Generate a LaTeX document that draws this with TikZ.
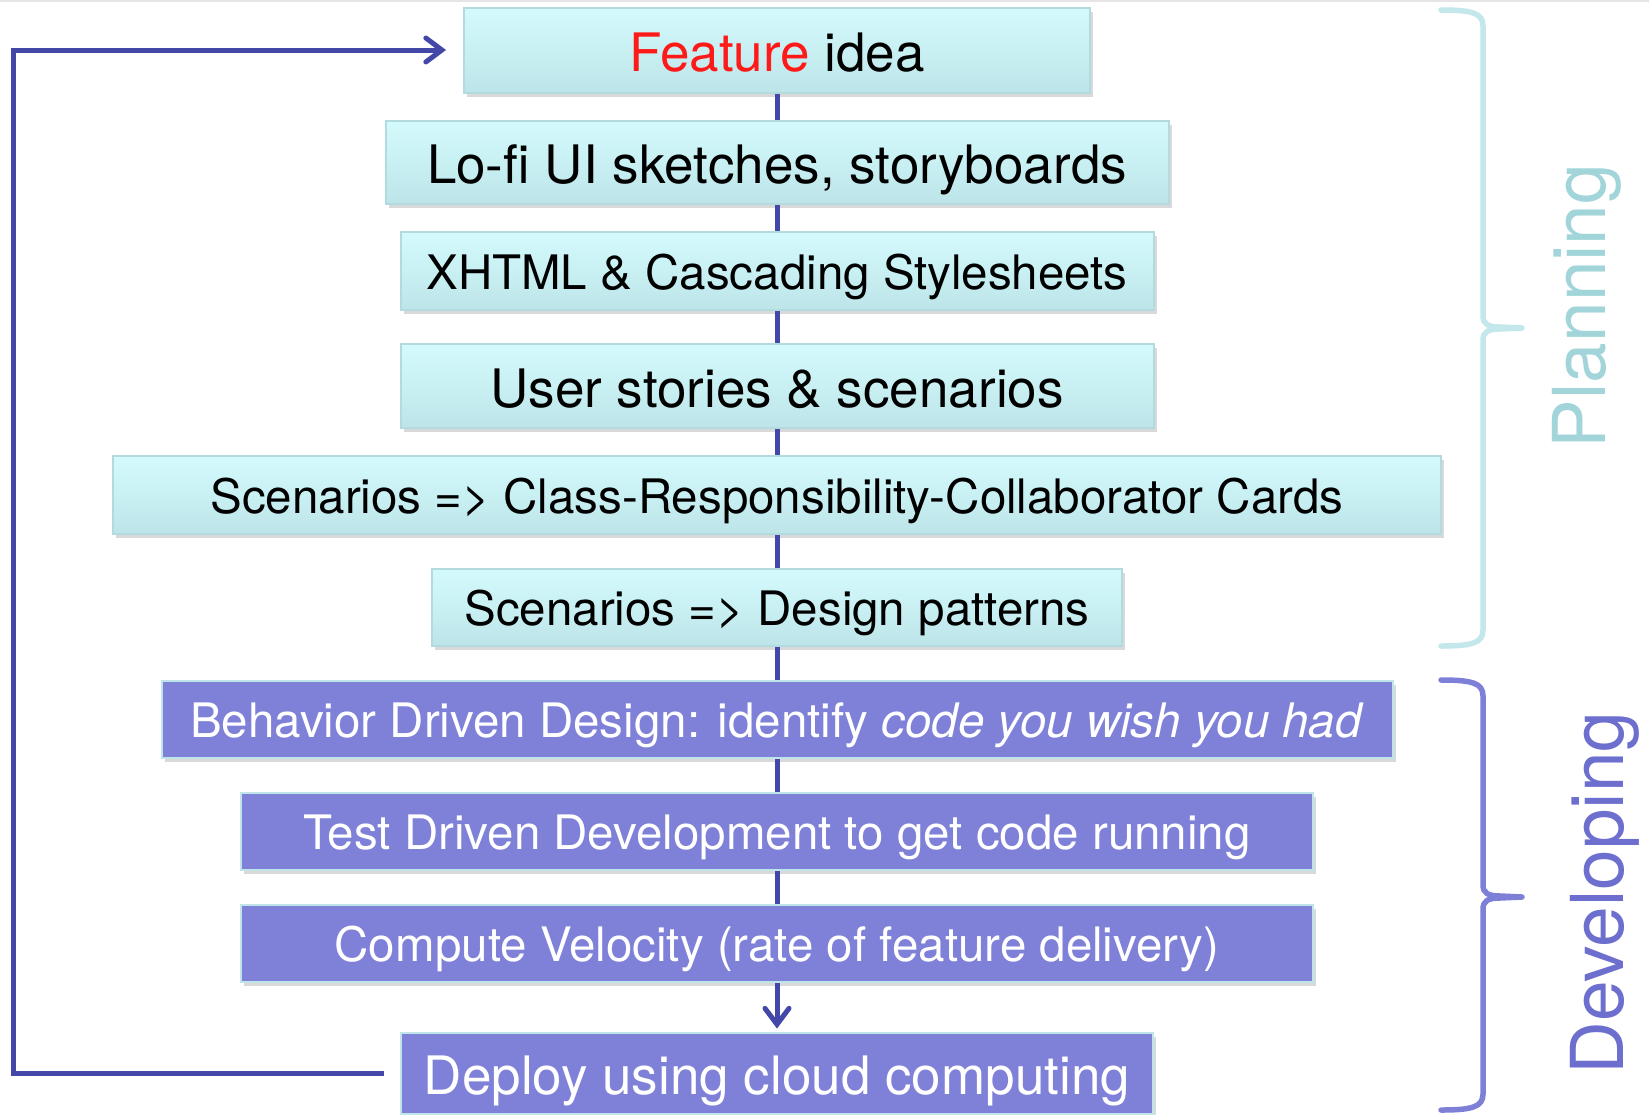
\documentclass[tikz,border=0pt]{standalone}
\usepackage{fontspec}
\setmainfont{TeX Gyre Heros}
\usetikzlibrary{arrows.meta,shadows}

\definecolor{plantop}{HTML}{D4FAFC}
\definecolor{planbot}{HTML}{BDE5E9}
\definecolor{planedge}{HTML}{B2DBE0}
\definecolor{devfill}{HTML}{7F81D8}
\definecolor{devedge}{HTML}{BFE5EA}
\definecolor{flowblue}{HTML}{4348A8}
\definecolor{plantext}{HTML}{A2D5D9}
\definecolor{planbrace}{HTML}{C3E7EB}
\definecolor{devtext}{HTML}{6D6FCF}
\definecolor{devbrace}{HTML}{7E80D7}
\definecolor{ideared}{HTML}{FF1A1A}

\newcommand{\bigtext}{\fontsize{53}{60}\selectfont}
\newcommand{\midtext}{\fontsize{47.5}{54}\selectfont}
\newcommand{\phasetext}{\fontsize{73}{80}\selectfont}

\tikzset{
    boxshadow/.style={drop shadow={shadow xshift=3pt,shadow yshift=-4pt,opacity=0.3}},
    planbox/.style={draw=planedge,line width=2pt,top color=plantop,bottom color=planbot,inner sep=0pt,boxshadow},
    devbox/.style={draw=devedge,line width=2pt,fill=devfill,text=white,inner sep=0pt,boxshadow},
    big/.style={font=\bigtext,text height=46pt,text depth=4pt},
    mid/.style={font=\midtext,text height=40pt,text depth=4pt},
    flow/.style={draw=flowblue,line width=5pt},
    flowhead/.style={-{Straight Barb[length=16pt,width=24pt,line cap=round]}},
    phase/.style={line width=5.5pt,line cap=round,line join=round},
}

\begin{document}
\begin{tikzpicture}[x=1pt,y=-1pt]
        \useasboundingbox (0,0) rectangle (1649,1114);
        \draw[black!10,line width=2pt] (0,1) -- (1649,1);

        \node[planbox,big,minimum width=626pt,minimum height=85pt] (feature) at (777,50) {\textcolor{ideared}{Feature} idea};
        \node[planbox,big,minimum width=783pt,minimum height=83pt] (lofi) at (777,162) {Lo-fi UI sketches, storyboards};
        \node[planbox,mid,minimum width=753pt,minimum height=78pt] (xhtml) at (777,271) {XHTML \& Cascading Stylesheets};
        \node[planbox,big,minimum width=753pt,minimum height=84pt] (stories) at (777,386) {User stories \& scenarios};
        \node[planbox,mid,minimum width=1328pt,minimum height=78pt] (crc) at (777,495) {Scenarios => Class-Responsibility-Collaborator Cards};
        \node[planbox,mid,minimum width=690pt,minimum height=77pt] (patterns) at (777,607) {Scenarios => Design patterns};

        \node[devbox,mid,minimum width=1231pt,minimum height=77pt] (bdd) at (777,719) {Behavior Driven Design: identify \textit{code you wish you had}};
        \node[devbox,mid,minimum width=1072pt,minimum height=77pt] (tdd) at (777,831) {Test Driven Development to get code running};
        \node[devbox,mid,minimum width=1072pt,minimum height=77pt] (velocity) at (777,943) {Compute Velocity (rate of feature delivery)};
        \node[devbox,big,minimum width=752pt,minimum height=81pt] (deploy) at (777,1073) {Deploy using cloud computing};

        \foreach \a/\b in {feature/lofi,lofi/xhtml,xhtml/stories,stories/crc,crc/patterns,patterns/bdd,bdd/tdd,tdd/velocity}
            \draw[flow] (\a) -- (\b);
        \draw[flow,flowhead,shorten >=3pt] (velocity) -- (deploy);

        \coordinate (back) at (13,0);
        \draw[flow,flowhead,shorten <=16pt,shorten >=17pt] (deploy.west) -- (deploy.west -| back) -- (feature.west -| back) -- (feature.west);

        % phase braces
        \draw[phase,planbrace] (1441,10) .. controls (1472,10) and (1483,13) .. (1483,26) -- (1483,316)
            .. controls (1483,324) and (1488,327) .. (1500,327) -- (1522,328) -- (1500,329)
            .. controls (1488,329) and (1483,332) .. (1483,340) -- (1483,630)
            .. controls (1483,643) and (1472,646) .. (1441,646);
        \draw[phase,devbrace] (1441,680) .. controls (1472,680) and (1483,683) .. (1483,696) -- (1483,885)
            .. controls (1483,893) and (1488,896) .. (1500,896) -- (1522,897) -- (1500,898)
            .. controls (1488,898) and (1483,901) .. (1483,909) -- (1483,1094)
            .. controls (1483,1107) and (1472,1110) .. (1441,1110);

        \node[rotate=90,anchor=base,text=plantext,font=\phasetext] (planning) at (1605,306) {Planning};
        \node[rotate=90,anchor=base,text=devtext,font=\phasetext] (developing) at (1623,893) {Developing};
    \end{tikzpicture}
\end{document}
